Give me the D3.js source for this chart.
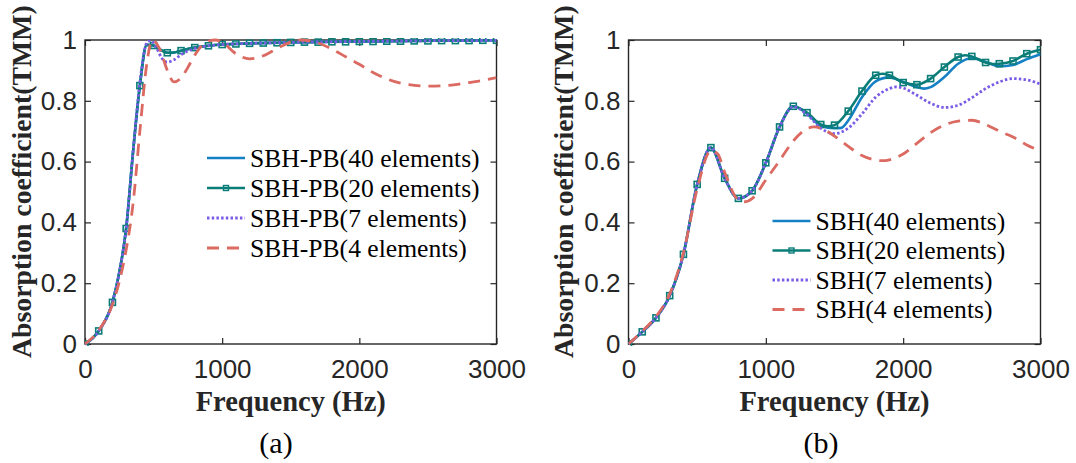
<!DOCTYPE html>
<html>
<head>
<meta charset="utf-8">
<script src="https://cdn.jsdelivr.net/npm/d3@7"></script>
<style>
  body { margin: 0; background: #fff; }
  svg { display: block; }
</style>
</head>
<body>
<svg id="chart" width="1076" height="463"></svg>
<script>
// ticks
const freqTicks = [0, 1000, 2000, 3000];
const absTicks = [0, 0.2, 0.4, 0.6, 0.8, 1];

// legend names
const namesA = ["SBH-PB(40 elements)", "SBH-PB(20 elements)", "SBH-PB(7 elements)", "SBH-PB(4 elements)"];
const namesB = ["SBH(40 elements)", "SBH(20 elements)", "SBH(7 elements)", "SBH(4 elements)"];

// panel (a)
const a40Freq = [0, 100, 200, 250, 300, 350, 400, 450, 500, 550, 600, 650, 700, 800, 900, 1000, 1200, 1400, 1600, 1800, 2000, 2200, 2400, 2600, 2800, 3000];
const a40Abs = [0, 0.043, 0.137, 0.235, 0.38, 0.63, 0.85, 0.984, 0.982, 0.968, 0.958, 0.959, 0.965, 0.975, 0.981, 0.985, 0.989, 0.991, 0.993, 0.994, 0.995, 0.996, 0.997, 0.998, 0.998, 0.999];

const a20Freq = [0, 100, 200, 250, 300, 350, 400, 450, 500, 550, 600, 650, 700, 800, 900, 1000, 1100, 1200, 1300, 1400, 1500, 1600, 1700, 1800, 1900, 2000, 2100, 2200, 2300, 2400, 2500, 2600, 2700, 2800, 2900, 3000];
const a20Abs = [0, 0.043, 0.137, 0.235, 0.38, 0.63, 0.85, 0.984, 0.982, 0.968, 0.958, 0.959, 0.965, 0.975, 0.981, 0.985, 0.987, 0.989, 0.990, 0.991, 0.992, 0.993, 0.993, 0.994, 0.994, 0.995, 0.995, 0.996, 0.996, 0.997, 0.997, 0.998, 0.998, 0.998, 0.999, 0.999];

const a7Freq = [0, 100, 200, 250, 300, 350, 400, 450, 480, 520, 560, 600, 650, 700, 800, 900, 1000, 1200, 1400, 1600, 1800, 2000, 2200, 2400, 2600, 2800, 3000];
const a7Abs = [0, 0.043, 0.137, 0.235, 0.38, 0.63, 0.86, 0.99, 0.998, 0.975, 0.94, 0.927, 0.935, 0.952, 0.972, 0.981, 0.985, 0.989, 0.991, 0.993, 0.994, 0.995, 0.996, 0.997, 0.998, 0.998, 0.999];

const a4Freq = [0, 100, 200, 250, 300, 350, 400, 450, 490, 550, 600, 650, 700, 750, 800, 850, 900, 950, 1000, 1100, 1200, 1300, 1400, 1500, 1575, 1700, 1800, 1900, 2000, 2100, 2200, 2300, 2400, 2500, 2600, 2700, 2800, 2900, 3000];
const a4Abs = [0, 0.045, 0.13, 0.205, 0.31, 0.46, 0.70, 0.92, 1.0, 0.965, 0.9, 0.862, 0.875, 0.91, 0.95, 0.98, 0.996, 1.0, 0.993, 0.955, 0.938, 0.948, 0.972, 0.993, 1.0, 0.99, 0.97, 0.945, 0.92, 0.893, 0.872, 0.858, 0.851, 0.848, 0.849, 0.853, 0.86, 0.867, 0.876];

// panel (b)
const b40Freq = [0, 100, 200, 300, 400, 500, 600, 700, 800, 900, 1000, 1100, 1200, 1300, 1400, 1500, 1550, 1600, 1700, 1800, 1900, 2000, 2100, 2150, 2200, 2300, 2400, 2500, 2600, 2700, 2800, 2900, 3000];
const b40Abs = [0, 0.040, 0.086, 0.159, 0.295, 0.525, 0.646, 0.545, 0.479, 0.504, 0.596, 0.714, 0.782, 0.758, 0.718, 0.710, 0.711, 0.735, 0.812, 0.864, 0.877, 0.862, 0.845, 0.840, 0.845, 0.878, 0.922, 0.940, 0.928, 0.914, 0.918, 0.937, 0.953];

const b20Freq = [0, 100, 200, 300, 400, 500, 600, 700, 800, 900, 1000, 1100, 1200, 1300, 1400, 1450, 1500, 1600, 1700, 1800, 1850, 1900, 2000, 2100, 2200, 2300, 2400, 2450, 2500, 2600, 2650, 2700, 2800, 2900, 3000];
const b20Abs = [0, 0.040, 0.086, 0.159, 0.295, 0.525, 0.646, 0.545, 0.479, 0.504, 0.596, 0.714, 0.782, 0.761, 0.722, 0.716, 0.720, 0.766, 0.832, 0.884, 0.889, 0.884, 0.860, 0.853, 0.873, 0.911, 0.944, 0.950, 0.946, 0.926, 0.921, 0.922, 0.931, 0.955, 0.968];

const b7Freq = [0, 100, 200, 300, 400, 500, 600, 700, 800, 900, 1000, 1100, 1200, 1300, 1400, 1500, 1600, 1700, 1800, 1900, 1950, 2000, 2100, 2200, 2300, 2400, 2500, 2600, 2700, 2800, 2900, 3000];
const b7Abs = [0, 0.040, 0.086, 0.159, 0.295, 0.525, 0.646, 0.545, 0.479, 0.504, 0.596, 0.714, 0.780, 0.755, 0.710, 0.692, 0.710, 0.757, 0.812, 0.840, 0.846, 0.842, 0.818, 0.792, 0.778, 0.785, 0.810, 0.840, 0.862, 0.873, 0.869, 0.855];

const b4Freq = [0, 100, 200, 300, 400, 500, 600, 650, 700, 800, 850, 900, 1000, 1100, 1200, 1300, 1350, 1400, 1500, 1600, 1700, 1800, 1850, 1900, 2000, 2100, 2200, 2300, 2400, 2500, 2600, 2700, 2800, 2900, 3000];
const b4Abs = [0, 0.042, 0.09, 0.165, 0.30, 0.51, 0.636, 0.625, 0.565, 0.474, 0.468, 0.478, 0.54, 0.603, 0.668, 0.708, 0.714, 0.71, 0.684, 0.65, 0.62, 0.605, 0.603, 0.606, 0.625, 0.66, 0.695, 0.72, 0.733, 0.736, 0.722, 0.70, 0.681, 0.655, 0.635];

// line styles, in draw order
const styles = [
    { color: "#1580c4", dash: null, width: 2.6, marker: false },
    { color: "#0b7d79", dash: null, width: 2.6, marker: true },
    { color: "#7a5ce6", dash: "2.5,2.2", width: 2.8, marker: false },
    { color: "#db6a62", dash: "12,8", width: 2.8, marker: false },
];

const svg = d3.select("#chart");
const tickFont = "'Liberation Sans', Arial, sans-serif";
const serifFont = "'Liberation Serif', 'Times New Roman', serif";
const axisColor = "#262626";

const plotTop = 40, plotBottom = 344;

function drawPanel(cfg) {
    const x = d3.scaleLinear().domain([0, 3000]).range([cfg.left, cfg.right]);
    const y = d3.scaleLinear().domain([0, 1]).range([plotBottom, plotTop]);
    const g = svg.append("g");

    g.append("clipPath").attr("id", cfg.id + "-clip")
        .append("rect")
        .attr("x", cfg.left).attr("y", plotTop - 2)
        .attr("width", cfg.right - cfg.left).attr("height", plotBottom - plotTop + 4);

    // axes, ticks pointing inward
    const styleAxis = (sel) => {
        sel.select(".domain").remove();
        sel.selectAll(".tick line").attr("stroke", axisColor).attr("stroke-width", 1.2);
        sel.selectAll(".tick text")
            .attr("fill", axisColor)
            .style("font-family", tickFont)
            .style("font-size", "26px");
    };
    g.append("g").attr("transform", `translate(0,${plotBottom})`)
        .call(d3.axisBottom(x).tickValues(freqTicks).tickSizeInner(-6).tickSizeOuter(0).tickPadding(16).tickFormat((d) => String(d)))
        .call(styleAxis);
    g.append("g").attr("transform", `translate(0,${plotTop})`)
        .call(d3.axisTop(x).tickValues(freqTicks).tickSizeInner(-6).tickSizeOuter(0).tickFormat(() => ""))
        .call(styleAxis);
    g.append("g").attr("transform", `translate(${cfg.left},0)`)
        .call(d3.axisLeft(y).tickValues(absTicks).tickSizeInner(-6).tickSizeOuter(0).tickPadding(8).tickFormat((d) => String(d)))
        .call(styleAxis);
    g.append("g").attr("transform", `translate(${cfg.right},0)`)
        .call(d3.axisRight(y).tickValues(absTicks).tickSizeInner(-6).tickSizeOuter(0).tickFormat(() => ""))
        .call(styleAxis);

    g.append("rect")
        .attr("x", cfg.left).attr("y", plotTop)
        .attr("width", cfg.right - cfg.left).attr("height", plotBottom - plotTop)
        .attr("fill", "none").attr("stroke", axisColor).attr("stroke-width", 1.4);

    const line = d3.line()
        .x((d) => x(d[0]))
        .y((d) => y(d[1]))
        .curve(d3.curveMonotoneX);

    const plot = g.append("g").attr("clip-path", `url(#${cfg.id}-clip)`);

    cfg.series.forEach((s, i) => {
        const st = styles[i];
        const pts = d3.zip(s.freq, s.abs);
        plot.append("path")
            .datum(pts)
            .attr("d", line)
            .attr("fill", "none")
            .attr("stroke", st.color)
            .attr("stroke-width", st.width)
            .attr("stroke-dasharray", st.dash);
        if (st.marker) {
            plot.selectAll(null)
                .data(pts.filter((d) => d[0] % 100 === 0))
                .enter()
                .append("rect")
                .attr("x", (d) => x(d[0]) - 3)
                .attr("y", (d) => y(d[1]) - 3)
                .attr("width", 6).attr("height", 6)
                .attr("fill", "none")
                .attr("stroke", st.color)
                .attr("stroke-width", 1.6);
        }
    });

    // legend, no box
    cfg.names.forEach((name, i) => {
        const st = styles[i];
        const ly = cfg.legendY + i * cfg.legendStep;
        g.append("line")
            .attr("x1", cfg.legendX).attr("x2", cfg.legendX + 38)
            .attr("y1", ly).attr("y2", ly)
            .attr("stroke", st.color)
            .attr("stroke-width", st.width)
            .attr("stroke-dasharray", st.dash);
        if (st.marker) {
            g.append("rect")
                .attr("x", cfg.legendX + 19 - 2.5).attr("y", ly - 2.5)
                .attr("width", 5).attr("height", 5)
                .attr("fill", "none").attr("stroke", st.color).attr("stroke-width", 1.4);
        }
        g.append("text")
            .attr("x", cfg.legendX + 43).attr("y", ly)
            .attr("dy", "0.35em")
            .style("font-family", serifFont)
            .style("font-size", "25.6px")
            .attr("fill", "#000")
            .text(name);
    });

    g.append("text")
        .attr("x", (cfg.left + cfg.right) / 2).attr("y", 411)
        .attr("text-anchor", "middle")
        .style("font-family", serifFont).style("font-weight", "bold").style("font-size", "28.5px")
        .attr("fill", axisColor)
        .text("Frequency (Hz)");

    g.append("text")
        .attr("transform", `translate(${cfg.labelX},358) rotate(-90)`)
        .attr("text-anchor", "start")
        .style("font-family", serifFont).style("font-weight", "bold").style("font-size", "27.8px")
        .attr("fill", axisColor)
        .text("Absorption coefficient(TMM)");

    g.append("text")
        .attr("x", cfg.captionX).attr("y", 453)
        .attr("text-anchor", "middle")
        .style("font-family", serifFont).style("font-size", "30px")
        .attr("fill", "#000")
        .text(cfg.caption);
}

drawPanel({
    id: "pa", left: 85, right: 496.5, labelX: 30.5, captionX: 276, caption: "(a)",
    legendX: 207, legendY: 158, legendStep: 30, names: namesA,
    series: [
        { freq: a40Freq, abs: a40Abs },
        { freq: a20Freq, abs: a20Abs },
        { freq: a7Freq, abs: a7Abs },
        { freq: a4Freq, abs: a4Abs },
    ],
});

drawPanel({
    id: "pb", left: 628.5, right: 1040.5, labelX: 572.5, captionX: 821, caption: "(b)",
    legendX: 772.5, legendY: 221, legendStep: 29.5, names: namesB,
    series: [
        { freq: b40Freq, abs: b40Abs },
        { freq: b20Freq, abs: b20Abs },
        { freq: b7Freq, abs: b7Abs },
        { freq: b4Freq, abs: b4Abs },
    ],
});
</script>
</body>
</html>
